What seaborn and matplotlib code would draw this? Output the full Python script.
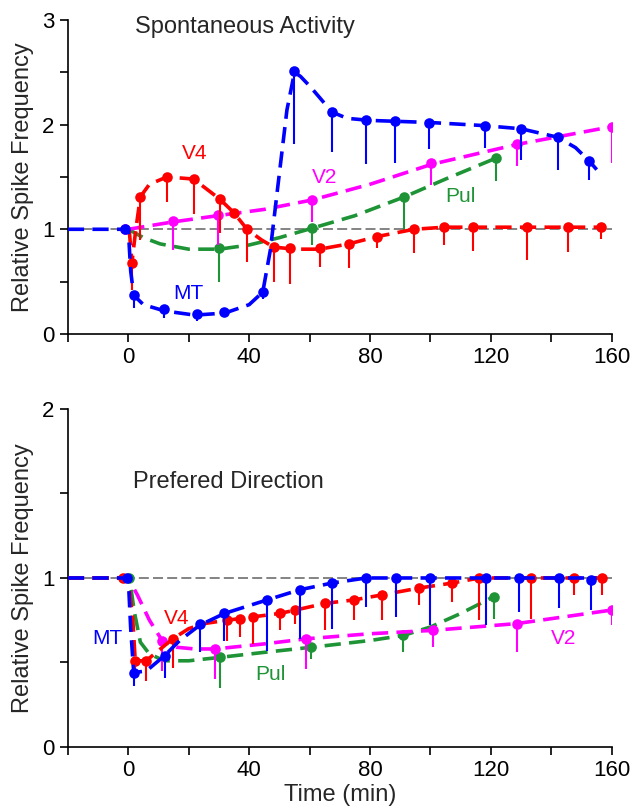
import numpy as np
import pandas as pd
import matplotlib
matplotlib.use("Agg")
import matplotlib.pyplot as plt
import seaborn as sns
from matplotlib.ticker import MultipleLocator

COLORS = {"MT": "#0000FF", "V4": "#FF0000", "V2": "#FF00FF", "Pul": "#1E9436"}

# ── top panel: spontaneous activity (points, lower error ends, fitted curve) ──
sp_mt_t  = [-1, 1.8, 11.7, 22.7, 31.8, 44.5, 55, 67.4, 78.7, 88.4, 99.4, 118.2, 129.8, 142.1, 152.6]
sp_mt_y  = [1.0, 0.37, 0.24, 0.19, 0.21, 0.40, 2.51, 2.12, 2.04, 2.03, 2.02, 1.99, 1.96, 1.88, 1.65]
sp_mt_lo = [1.0, 0.25, 0.15, 0.12, 0.17, 0.33, 1.81, 1.74, 1.62, 1.63, 1.77, 1.78, 1.66, 1.57, 1.47]
sp_mt_ft = [-20, 0, 0.8, 1.8, 5, 12, 22, 32, 40, 44.5, 47, 49.2, 52.5, 55, 57, 60.3, 67.4, 72.4, 80, 100, 118, 130, 142, 148, 152.6, 155]
sp_mt_fy = [1.0, 1.0, 0.6, 0.37, 0.28, 0.22, 0.18, 0.2, 0.28, 0.40, 0.8, 1.34, 2.14, 2.5, 2.46, 2.36, 2.12, 2.06, 2.04, 2.02, 1.99, 1.96, 1.88, 1.78, 1.65, 1.57]

sp_v4_t  = [1.2, 4, 12.8, 21.6, 30.2, 34.9, 39.3, 48.1, 53.6, 63.3, 72.9, 82.3, 94.5, 104.6, 114.1, 131.8, 145.6, 156.3]
sp_v4_y  = [0.68, 1.31, 1.50, 1.48, 1.29, 1.16, 1.00, 0.83, 0.82, 0.82, 0.86, 0.93, 1.00, 1.02, 1.02, 1.02, 1.02, 1.02]
sp_v4_lo = [0.42, 0.90, 1.26, 1.15, 0.96, 1.16, 0.69, 0.50, 0.48, 0.64, 0.63, 0.82, 0.77, 0.85, 0.79, 0.71, 0.78, 0.91]
sp_v4_ft = [0.3, 1.2, 2.5, 4, 7, 12.8, 21.6, 30.2, 34.9, 39.3, 44, 48.1, 55, 63.3, 72.9, 82.3, 94.5, 104.6, 156.3]
sp_v4_fy = [1.0, 0.68, 1.0, 1.31, 1.43, 1.50, 1.48, 1.29, 1.16, 1.00, 0.90, 0.83, 0.81, 0.81, 0.86, 0.93, 1.00, 1.02, 1.02]

sp_v2_t  = [-1, 14.7, 29.6, 60.8, 100.3, 128.5, 159.9]
sp_v2_y  = [1.0, 1.08, 1.14, 1.28, 1.63, 1.81, 1.98]
sp_v2_lo = [1.0, 0.80, 0.85, 1.07, 1.42, 1.60, 1.63]
sp_v2_ft = [0, 14.7, 29.6, 45, 60.8, 80, 100.3, 128.5, 159.9]
sp_v2_fy = [1.0, 1.07, 1.13, 1.19, 1.28, 1.43, 1.62, 1.81, 1.98]

sp_pul_t  = [30.1, 60.8, 91.4, 121.7]
sp_pul_y  = [0.82, 1.01, 1.31, 1.68]
sp_pul_lo = [0.50, 0.85, 0.99, 1.46]
sp_pul_ft = [0, 5, 10.6, 20, 30.1, 40, 50, 60.8, 75, 91.4, 105, 121.7]
sp_pul_fy = [1.0, 0.92, 0.86, 0.81, 0.81, 0.85, 0.92, 1.01, 1.13, 1.31, 1.48, 1.68]

# ── bottom panel: preferred direction ──
pd_mt_t  = [-0.4, 1.8, 12, 23.6, 31.8, 45.9, 56.7, 67.4, 78.7, 88.6, 100, 118.5, 129.2, 142.5, 153]
pd_mt_y  = [1.0, 0.44, 0.54, 0.73, 0.79, 0.87, 0.93, 0.97, 1.0, 1.0, 1.0, 1.0, 1.0, 1.0, 0.99]
pd_mt_lo = [1.0, 0.36, 0.41, 0.56, 0.63, 0.57, 0.64, 0.70, 0.83, 0.77, 0.72, 0.72, 0.80, 0.82, 0.81]
pd_mt_ft = [-20, 0, 0.8, 1.8, 6, 12, 17, 23.6, 31.8, 45.9, 56.7, 67.4, 78.7, 155]
pd_mt_fy = [1.0, 1.0, 0.7, 0.44, 0.45, 0.54, 0.63, 0.72, 0.79, 0.87, 0.93, 0.97, 1.0, 1.0]

pd_v4_t  = [-1.8, 2.3, 5.9, 14.7, 32.7, 36.9, 41.3, 50.1, 55.3, 65.2, 74.6, 84, 96.1, 107.2, 116.2, 133.4, 147.5, 156.6]
pd_v4_y  = [1.0, 0.51, 0.51, 0.64, 0.75, 0.76, 0.77, 0.79, 0.81, 0.85, 0.87, 0.90, 0.94, 0.97, 1.0, 1.0, 1.0, 1.0]
pd_v4_lo = [1.0, 0.41, 0.39, 0.47, 0.63, 0.65, 0.61, 0.69, 0.73, 0.69, 0.75, 0.75, 0.84, 0.86, 0.75, 0.76, 0.90, 0.90]
pd_v4_ft = [-20, 0, 1.5, 2.3, 5.9, 10, 14.7, 20, 25, 32.7, 41.3, 50.1, 55.3, 65.2, 74.6, 84, 96.1, 107.2, 116.2, 156.6]
pd_v4_fy = [1.0, 1.0, 0.75, 0.51, 0.51, 0.57, 0.64, 0.70, 0.73, 0.75, 0.77, 0.79, 0.81, 0.85, 0.87, 0.90, 0.94, 0.97, 1.0, 1.0]

pd_v2_t  = [11.2, 28.8, 58.9, 100.8, 128.5, 159.9]
pd_v2_y  = [0.63, 0.58, 0.64, 0.69, 0.73, 0.81]
pd_v2_lo = [0.45, 0.40, 0.46, 0.59, 0.56, 0.72]
pd_v2_ft = [-20, 0, 3, 7, 11.2, 16, 22, 28.8, 45, 58.9, 80, 100.8, 128.5, 159.9]
pd_v2_fy = [1.0, 1.0, 0.9, 0.75, 0.63, 0.59, 0.58, 0.58, 0.61, 0.64, 0.67, 0.69, 0.73, 0.81]

pd_pul_t  = [0.4, 30.2, 60.6, 91, 121]
pd_pul_y  = [1.0, 0.53, 0.59, 0.66, 0.89]
pd_pul_lo = [1.0, 0.35, 0.52, 0.56, 0.76]
pd_pul_ft = [-20, 0.4, 2, 4, 7, 12, 20, 30.2, 45, 60.6, 80, 91, 100, 110, 121]
pd_pul_fy = [1.0, 1.0, 0.8, 0.62, 0.55, 0.51, 0.51, 0.53, 0.56, 0.59, 0.63, 0.66, 0.71, 0.79, 0.89]

# series labels placed next to the curves
sp_labels = [("V4", 22, 1.72), ("MT", 20, 0.39), ("V2", 65, 1.49), ("Pul", 110, 1.31)]
pd_labels = [("MT", -6.8, 0.64), ("V4", 16, 0.76), ("Pul", 47, 0.43), ("V2", 144, 0.64)]

sns.set_style("ticks")
plt.rcParams["font.family"] = ["Liberation Sans", "DejaVu Sans"]

fig = plt.figure(figsize=(6.34, 8.10), dpi=100)
ax1 = fig.add_axes([0.107, 0.5877, 0.858, 0.3877])
ax2 = fig.add_axes([0.107, 0.0778, 0.858, 0.4173])


def draw_series(ax, name, t, y, lo, ft, fy, z):
    c = COLORS[name]
    sns.lineplot(x=ft, y=fy, ax=ax, color=c, lw=2.6, linestyle=(0, (4.5, 2.3)),
                 sort=False, estimator=None, zorder=z)
    ax.vlines(t, lo, y, color=c, lw=1.5, zorder=z)
    sns.scatterplot(x=t, y=y, ax=ax, color=c, s=58, linewidth=0, zorder=z + 0.5)


for ax, ymax in [(ax1, 3), (ax2, 2)]:
    ax.axhline(1.0, color="#6E6E6E", lw=1.2, ls=(0, (6, 2.5)), zorder=1)
    ax.set_xlim(-20, 160)
    ax.set_ylim(0, ymax)
    ax.xaxis.set_major_locator(MultipleLocator(40))
    ax.xaxis.set_minor_locator(MultipleLocator(20))
    ax.yaxis.set_major_locator(MultipleLocator(1))
    ax.yaxis.set_minor_locator(MultipleLocator(0.5))
    ax.tick_params(which="major", length=6, width=1.2, labelsize=16, direction="out",
                   color="black", labelcolor="black")
    ax.tick_params(which="minor", length=6, width=1.2, direction="out", color="black")
    ax.set_ylabel("Relative Spike Frequency", fontsize=17, labelpad=6)
    for s in ["top", "right"]:
        ax.spines[s].set_visible(False)
    for s in ["left", "bottom"]:
        ax.spines[s].set_linewidth(1.2)
        ax.spines[s].set_color("black")

draw_series(ax1, "Pul", sp_pul_t, sp_pul_y, sp_pul_lo, sp_pul_ft, sp_pul_fy, 3)
draw_series(ax1, "V2", sp_v2_t, sp_v2_y, sp_v2_lo, sp_v2_ft, sp_v2_fy, 4)
draw_series(ax1, "V4", sp_v4_t, sp_v4_y, sp_v4_lo, sp_v4_ft, sp_v4_fy, 5)
draw_series(ax1, "MT", sp_mt_t, sp_mt_y, sp_mt_lo, sp_mt_ft, sp_mt_fy, 6)

draw_series(ax2, "Pul", pd_pul_t, pd_pul_y, pd_pul_lo, pd_pul_ft, pd_pul_fy, 3)
draw_series(ax2, "V2", pd_v2_t, pd_v2_y, pd_v2_lo, pd_v2_ft, pd_v2_fy, 4)
draw_series(ax2, "V4", pd_v4_t, pd_v4_y, pd_v4_lo, pd_v4_ft, pd_v4_fy, 5)
draw_series(ax2, "MT", pd_mt_t, pd_mt_y, pd_mt_lo, pd_mt_ft, pd_mt_fy, 6)

ax1.text(2.3, 2.93, "Spontaneous Activity", fontsize=17, va="center")
ax2.text(1.7, 1.57, "Prefered Direction", fontsize=17, va="center")
for lab, x, y in sp_labels:
    ax1.text(x, y, lab, color=COLORS[lab], fontsize=15, ha="center", va="center")
for lab, x, y in pd_labels:
    ax2.text(x, y, lab, color=COLORS[lab], fontsize=15, ha="center", va="center")

ax1.set_xlabel("")
ax2.set_xlabel("Time (min)", fontsize=17, labelpad=2)

plt.savefig("out.png", dpi=100)
